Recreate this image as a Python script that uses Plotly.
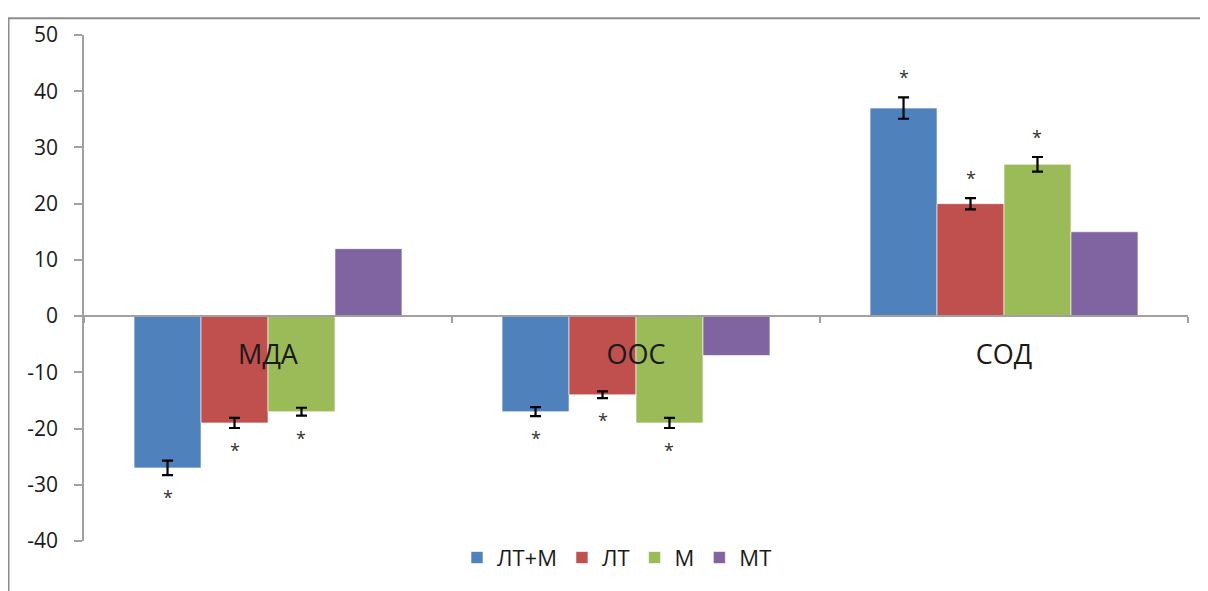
import plotly.graph_objects as go

categories = ["МДА", "ООС", "СОД"]
series_names = ["ЛТ+М", "ЛТ", "М", "МТ"]
values_lt_m = [-27, -17, 37]
values_lt = [-19, -14, 20]
values_m = [-17, -19, 27]
values_mt = [12, -7, 15]
err_lt_m = [1.3, 0.8, 1.9]
err_lt = [0.9, 0.6, 1.0]
err_m = [0.7, 0.9, 1.3]
err_mt = [None, None, None]
signif_lt_m = [True, True, True]
signif_lt = [True, True, True]
signif_m = [True, True, True]
signif_mt = [False, False, False]
y_ticks = [-40, -30, -20, -10, 0, 10, 20, 30, 40, 50]
y_tick_labels = ["-40", "-30", "-20", "-10", "0", "10", "20", "30", "40", "50"]

colors = ["#4F81BD", "#C0504D", "#9BBB59", "#8064A2"]
all_values = [values_lt_m, values_lt, values_m, values_mt]
all_errs = [err_lt_m, err_lt, err_m, err_mt]
all_sig = [signif_lt_m, signif_lt, signif_m, signif_mt]

BARGAP = 0.272
YMIN, YMAX = -40, 50

fig = go.Figure()
for name, vals, errs, col in zip(series_names, all_values, all_errs, colors):
    has_err = any(e is not None for e in errs)
    fig.add_trace(go.Bar(
        name=name, x=categories, y=vals,
        marker=dict(color=col, line=dict(color="rgba(255,255,255,0.6)", width=1)),
        error_y=dict(type="data", array=[e if e is not None else 0 for e in errs],
                     visible=has_err, color="black", thickness=2.2, width=5.5),
    ))

# asterisks above/below the error bars
n = len(series_names)
bw = (1 - BARGAP) / n
for si, (vals, errs, sig) in enumerate(zip(all_values, all_errs, all_sig)):
    for ci, (v, e, s) in enumerate(zip(vals, errs, sig)):
        if not s:
            continue
        xpos = ci - (1 - BARGAP) / 2 + bw * (si + 0.5)
        end = v + (e or 0) * (1 if v >= 0 else -1)
        fig.add_annotation(x=xpos, y=end, xref="x", yref="y", text="*",
                           showarrow=False, yanchor="middle",
                           yshift=20 if v >= 0 else -22,
                           font=dict(family="Open Sans", size=18, color="#333333"))

OFF = 8  # default page body margin
W, H = 1208 - OFF, 591 - OFF
L, R, T, B = 84 - OFF, W - (1188 - OFF), 29 - OFF, H - (543 - OFF)
pw, ph = W - L - R, H - T - B

def px_x(p):
    return (p - OFF - L) / pw

def px_y(p):
    return (H - B - (p - OFF)) / ph

fig.add_shape(type="line", xref="paper", yref="paper",
              x0=px_x(8.5), x1=px_x(8.5), y0=px_y(12), y1=px_y(620),
              line=dict(color="#8c8c8c", width=2))
fig.add_shape(type="line", xref="paper", yref="paper",
              x0=px_x(7.5), x1=px_x(1230), y0=px_y(12), y1=px_y(12),
              line=dict(color="#8c8c8c", width=2))

fig.update_layout(
    width=W, height=H,
    margin=dict(l=L, r=R, t=T, b=B),
    paper_bgcolor="white", plot_bgcolor="white",
    barmode="group", bargap=BARGAP, bargroupgap=0,
    font=dict(family="Open Sans", color="#1a1a1a"),
    showlegend=True,
    legend=dict(orientation="h", x=px_x(617), xanchor="center",
                y=px_y(560), yanchor="middle",
                font=dict(size=22, color="#1a1a1a"),
                itemwidth=30, traceorder="normal"),
    xaxis=dict(
        type="category", anchor="free",
        position=(0 - YMIN) / (YMAX - YMIN),
        showline=True, linecolor="#a0a0a0", linewidth=1.5,
        ticks="outside", ticklen=6, tickcolor="#a0a0a0", tickwidth=1.5,
        tickson="boundaries", showgrid=False, zeroline=False,
        tickfont=dict(size=27, color="#1a1a1a"),
        ticklabelstandoff=15,
    ),
    yaxis=dict(
        range=[YMIN, YMAX], tickvals=y_ticks, ticktext=y_tick_labels,
        showline=True, linecolor="#a0a0a0", linewidth=1.5,
        ticks="outside", ticklen=8, tickcolor="#a0a0a0", tickwidth=1.5,
        showgrid=False, zeroline=False,
        tickfont=dict(size=21, color="#1a1a1a"),
        ticklabelstandoff=12,
    ),
)

fig.write_html("out.html")
